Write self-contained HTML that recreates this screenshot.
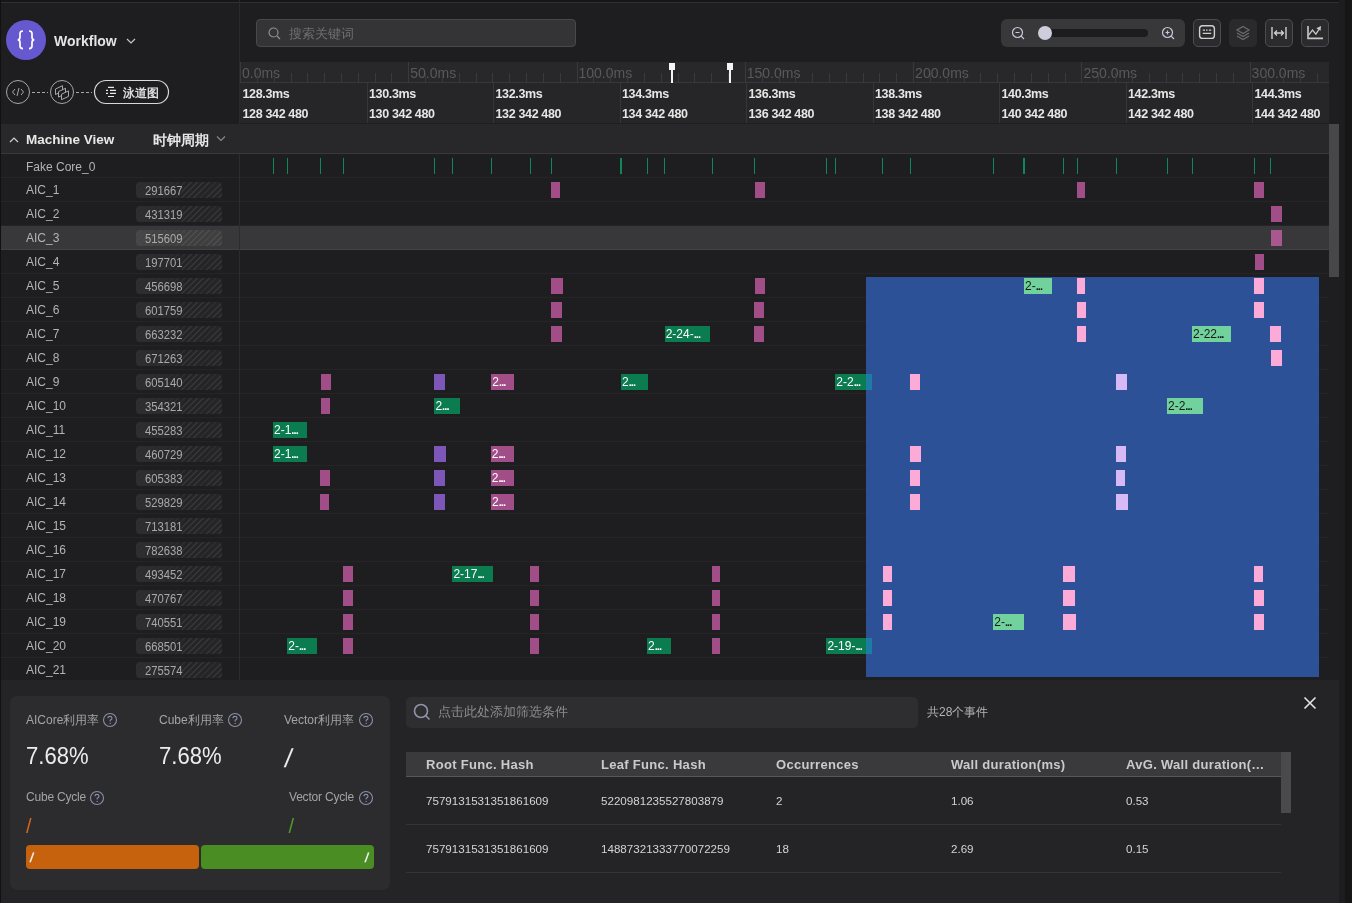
<!DOCTYPE html><html><head><meta charset="utf-8"><style>
*{margin:0;padding:0;box-sizing:border-box}
html,body{width:1352px;height:903px;overflow:hidden;background:#1e1e20;font-family:"Liberation Sans",sans-serif;color:#ddd}
.a{position:absolute}
.t{position:absolute;white-space:nowrap;line-height:1}
.blk{position:absolute;height:16px;overflow:hidden;font-size:12px;line-height:16px;padding-left:1px;white-space:nowrap;color:#fff}
.blk s{text-decoration:none;letter-spacing:-0.9px;font-weight:bold;font-size:11px}
.pk{background:#a14d88}.pkh{background:#a8588f}.pu{background:#7c56b9}.gr{background:#0b7b50}
.lpk{background:#fcabd8}.lpu{background:#d7b9f6}.lgr{background:#72d29e;color:#141a16}
.rowline{position:absolute;left:1px;width:1328px;height:1px;background:#252527}
.nm{position:absolute;left:26px;font-size:12px;color:#b4b4b4;line-height:1}
.nb{position:absolute;left:136px;width:86px;height:16px;border-radius:4px;overflow:hidden;background:rgba(255,255,255,0.035)}
.nb u{position:absolute;left:0;top:0;right:0;bottom:0;background:repeating-linear-gradient(135deg,transparent 0 3.2px,rgba(255,255,255,0.075) 3.2px 4.4px);-webkit-mask-image:linear-gradient(90deg,rgba(0,0,0,0.15),rgba(0,0,0,0.45) 52%,#000 54%)}
.nb i{position:absolute;left:0;top:0;bottom:0;width:46px;background:linear-gradient(90deg,rgba(255,255,255,0.04),rgba(255,255,255,0.0))}
.nb b{position:absolute;left:8.5px;top:2.5px;font-weight:normal;font-size:12.5px;line-height:13px;color:#a9a9a9;transform:scaleX(0.9);transform-origin:0 0}
.tick{position:absolute;top:158px;width:1.4px;height:16px;background:#0c8859}
.mt{position:absolute;top:62px;width:1px;height:21px;background:#3a3a3e}
.mn{position:absolute;top:73px;width:1px;height:10px;background:#3a3a3e}
.ml{position:absolute;top:65.5px;font-size:14px;color:#59595d;line-height:1}
.lab{position:absolute;font-size:12.5px;font-weight:bold;color:#e6e6e6;line-height:1;letter-spacing:-0.35px}
.ldiv{position:absolute;top:83px;width:1px;height:40px;background:#36363a}
.btn{position:absolute;top:19px;width:28px;height:28px;border-radius:5px;border:1px solid #4a4b55;background:#2b2b2e}
</style></head><body><div style="position:absolute;left:0;top:0;width:1352px;height:903px;will-change:transform">
<div class="a" style="left:0;top:0;width:1345px;height:2px;background:#161617"></div>
<div class="a" style="left:0;top:2px;width:1345px;height:1px;background:#303032"></div>
<div class="a" style="left:1339px;top:0;width:13px;height:903px;background:#1d1d1f"></div>
<div class="a" style="left:1345px;top:0;width:7px;height:903px;background:#161617"></div>
<div class="a" style="left:0;top:0;width:1px;height:903px;background:#111"></div>
<div class="a" style="left:6px;top:20px;width:40px;height:40px;border-radius:50%;background:#6659cf"></div>
<svg class="a" style="left:0;top:0" width="60" height="60" viewBox="0 0 60 60"><path d="M23 31 Q20 31 20 33.5 V37.2 Q20 39.5 17.8 39.8 Q20 40.1 20 42.4 V46 Q20 48.6 23 48.6 M29 31 Q32 31 32 33.5 V37.2 Q32 39.5 34.2 39.8 Q32 40.1 32 42.4 V46 Q32 48.6 29 48.6" fill="none" stroke="#fff" stroke-width="1.7"/></svg>
<div class="t" style="left:54px;top:34px;font-size:14px;font-weight:bold;color:#e4e4e4">Workflow</div>
<svg class="a" style="left:126px;top:38px" width="10" height="6" viewBox="0 0 10 6"><path d="M1 1 L5 5 L9 1" fill="none" stroke="#c8c8c8" stroke-width="1.2"/></svg>
<svg class="a" style="left:0;top:76px" width="175" height="32" viewBox="0 0 175 32"><circle cx="18" cy="16" r="11.5" fill="none" stroke="#a8a8a8" stroke-width="1"/><path d="M15 13 L12.5 16 L15 19 M21 13 L23.5 16 L21 19 M19 12 L17 20" fill="none" stroke="#a8a8a8" stroke-width="1"/><path d="M32 16.5 H48" stroke="#a8a8a8" stroke-width="1" stroke-dasharray="3 2"/><circle cx="62" cy="16" r="11.5" fill="none" stroke="#a8a8a8" stroke-width="1"/><path d="M55.5 13.0 L62.5 9.7 V15.2 L55.5 18.5 Z" fill="#1e1e20" stroke="#b0b0b0" stroke-width="0.95"/><path d="M58.5 15.6 L65.5 12.3 V17.8 L58.5 21.1 Z" fill="#1e1e20" stroke="#b0b0b0" stroke-width="0.95"/><path d="M61.5 18.2 L68.5 14.9 V20.4 L61.5 23.7 Z" fill="#1e1e20" stroke="#b0b0b0" stroke-width="0.95"/><path d="M76 16.5 H92" stroke="#a8a8a8" stroke-width="1" stroke-dasharray="3 2"/><rect x="94.5" y="4.5" width="74" height="23" rx="11.5" fill="none" stroke="#d8d8d8" stroke-width="1.2"/><path d="M108 11.3 h6 M106 14.4 h2 M110 14.4 h6 M106 17.3 h2 M110 17.3 h6 M108 20.5 h6" stroke="#e8e8e8" stroke-width="1.2"/></svg>
<div class="t" style="left:123px;top:87px;font-size:12px;color:#ececec;font-weight:bold;opacity:0.92">泳道图</div>
<div class="a" style="left:256px;top:19px;width:320px;height:28px;border-radius:4px;border:1px solid #48484e;background:#343437"></div>
<svg class="a" style="left:268px;top:27px" width="13" height="13" viewBox="0 0 13 13"><circle cx="5.5" cy="5.5" r="4.5" fill="none" stroke="#8e8e96" stroke-width="1.2"/><path d="M9 9 L12 12" stroke="#8e8e96" stroke-width="1.2"/></svg>
<div class="t" style="left:289px;top:27px;font-size:13px;color:#6e6e74">搜索关键词</div>
<div class="a" style="left:1001px;top:19px;width:184px;height:28px;border-radius:6px;background:#38383b"></div>
<svg class="a" style="left:1011px;top:26px" width="15" height="15" viewBox="0 0 15 15"><circle cx="6.5" cy="6.5" r="5" fill="none" stroke="#c8c8d8" stroke-width="1.2"/><path d="M4.5 6.5 h4 M10.2 10.2 L13 13" stroke="#c8c8d8" stroke-width="1.2"/></svg>
<div class="a" style="left:1039px;top:29px;width:109px;height:8px;border-radius:4px;background:#1c1c1e"></div>
<div class="a" style="left:1038px;top:26px;width:14px;height:14px;border-radius:50%;background:#cdcddb"></div>
<svg class="a" style="left:1161px;top:26px" width="15" height="15" viewBox="0 0 15 15"><circle cx="6.5" cy="6.5" r="5" fill="none" stroke="#c8c8d8" stroke-width="1.2"/><path d="M4.5 6.5 h4 M6.5 4.5 v4 M10.2 10.2 L13 13" stroke="#c8c8d8" stroke-width="1.2"/></svg>
<div class="btn" style="left:1193px"></div>
<svg class="a" style="left:1193px;top:19px" width="28" height="28" viewBox="0 0 28 28"><rect x="6.6" y="6.8" width="14.8" height="12.6" rx="3" fill="none" stroke="#cfcfcf" stroke-width="1.4"/><path d="M9.8 11.2 h2.2 M13 11.2 h1.6 M15.8 11.2 h2.4 M9.8 14.4 h8.4" stroke="#cfcfcf" stroke-width="1.2"/></svg>
<div class="a" style="left:1229px;top:19px;width:28px;height:28px;border-radius:5px;background:#2a2a2c"></div>
<svg class="a" style="left:1229px;top:19px" width="28" height="28" viewBox="0 0 28 28"><path d="M14 7.5 L20 11 L14 14.5 L8 11 Z" fill="none" stroke="#6c6c6e" stroke-width="1.2"/><path d="M8 14 L14 17.5 L20 14 M8 17 L14 20.5 L20 17" fill="none" stroke="#6c6c6e" stroke-width="1.2"/></svg>
<div class="btn" style="left:1265px"></div>
<svg class="a" style="left:1265px;top:19px" width="28" height="28" viewBox="0 0 28 28"><path d="M7 8 v12 M21 8 v12" stroke="#cfcfcf" stroke-width="1.4"/><path d="M9.5 14 h9 M12 11.5 L9.5 14 L12 16.5 M16 11.5 L18.5 14 L16 16.5" fill="none" stroke="#cfcfcf" stroke-width="1.3"/></svg>
<div class="btn" style="left:1301px"></div>
<svg class="a" style="left:1301px;top:19px" width="28" height="28" viewBox="0 0 28 28"><path d="M7 7 V19.4 H22" fill="none" stroke="#c8c8c8" stroke-width="1.6"/><path d="M7.4 16.3 L11.5 11 L14.9 15.2 L18.5 9.5" fill="none" stroke="#c8c8c8" stroke-width="1.3"/><path d="M20 7 L15.3 9.2 L19.6 11.8 Z" fill="#c8c8c8"/></svg>
<div class="a" style="left:240px;top:62px;width:1089px;height:21px;background:#28282a"></div>
<div class="a" style="left:240px;top:82px;width:1089px;height:1px;background:#38383c"></div>
<div class="a" style="left:240px;top:83px;width:1089px;height:40px;background:#262628"></div>
<div class="mt" style="left:240.0px"></div>
<div class="ml" style="left:242.0px">0.0ms</div>
<div class="mn" style="left:256.8px"></div>
<div class="mn" style="left:273.7px"></div>
<div class="mn" style="left:290.5px"></div>
<div class="mn" style="left:307.3px"></div>
<div class="mn" style="left:324.1px"></div>
<div class="mn" style="left:341.0px"></div>
<div class="mn" style="left:357.8px"></div>
<div class="mn" style="left:374.6px"></div>
<div class="mn" style="left:391.4px"></div>
<div class="mt" style="left:408.3px"></div>
<div class="ml" style="left:410.3px">50.0ms</div>
<div class="mn" style="left:425.1px"></div>
<div class="mn" style="left:441.9px"></div>
<div class="mn" style="left:458.8px"></div>
<div class="mn" style="left:475.6px"></div>
<div class="mn" style="left:492.4px"></div>
<div class="mn" style="left:509.2px"></div>
<div class="mn" style="left:526.1px"></div>
<div class="mn" style="left:542.9px"></div>
<div class="mn" style="left:559.7px"></div>
<div class="mt" style="left:576.5px"></div>
<div class="ml" style="left:578.5px">100.0ms</div>
<div class="mn" style="left:593.4px"></div>
<div class="mn" style="left:610.2px"></div>
<div class="mn" style="left:627.0px"></div>
<div class="mn" style="left:643.8px"></div>
<div class="mn" style="left:660.7px"></div>
<div class="mn" style="left:677.5px"></div>
<div class="mn" style="left:694.3px"></div>
<div class="mn" style="left:711.2px"></div>
<div class="mn" style="left:728.0px"></div>
<div class="mt" style="left:744.8px"></div>
<div class="ml" style="left:746.8px">150.0ms</div>
<div class="mn" style="left:761.6px"></div>
<div class="mn" style="left:778.5px"></div>
<div class="mn" style="left:795.3px"></div>
<div class="mn" style="left:812.1px"></div>
<div class="mn" style="left:828.9px"></div>
<div class="mn" style="left:845.8px"></div>
<div class="mn" style="left:862.6px"></div>
<div class="mn" style="left:879.4px"></div>
<div class="mn" style="left:896.3px"></div>
<div class="mt" style="left:913.1px"></div>
<div class="ml" style="left:915.1px">200.0ms</div>
<div class="mn" style="left:929.9px"></div>
<div class="mn" style="left:946.7px"></div>
<div class="mn" style="left:963.6px"></div>
<div class="mn" style="left:980.4px"></div>
<div class="mn" style="left:997.2px"></div>
<div class="mn" style="left:1014.0px"></div>
<div class="mn" style="left:1030.9px"></div>
<div class="mn" style="left:1047.7px"></div>
<div class="mn" style="left:1064.5px"></div>
<div class="mt" style="left:1081.4px"></div>
<div class="ml" style="left:1083.4px">250.0ms</div>
<div class="mn" style="left:1098.2px"></div>
<div class="mn" style="left:1115.0px"></div>
<div class="mn" style="left:1131.8px"></div>
<div class="mn" style="left:1148.7px"></div>
<div class="mn" style="left:1165.5px"></div>
<div class="mn" style="left:1182.3px"></div>
<div class="mn" style="left:1199.1px"></div>
<div class="mn" style="left:1216.0px"></div>
<div class="mn" style="left:1232.8px"></div>
<div class="mt" style="left:1249.6px"></div>
<div class="ml" style="left:1251.6px">300.0ms</div>
<div class="mn" style="left:1266.4px"></div>
<div class="mn" style="left:1283.3px"></div>
<div class="mn" style="left:1300.1px"></div>
<div class="mn" style="left:1316.9px"></div>
<div class="lab" style="left:242.5px;top:88px">128.3ms</div>
<div class="lab" style="left:242.5px;top:108px">128 342 480</div>
<div class="ldiv" style="left:366.5px"></div>
<div class="lab" style="left:369.0px;top:88px">130.3ms</div>
<div class="lab" style="left:369.0px;top:108px">130 342 480</div>
<div class="ldiv" style="left:493.0px"></div>
<div class="lab" style="left:495.5px;top:88px">132.3ms</div>
<div class="lab" style="left:495.5px;top:108px">132 342 480</div>
<div class="ldiv" style="left:619.5px"></div>
<div class="lab" style="left:622.0px;top:88px">134.3ms</div>
<div class="lab" style="left:622.0px;top:108px">134 342 480</div>
<div class="ldiv" style="left:746.0px"></div>
<div class="lab" style="left:748.5px;top:88px">136.3ms</div>
<div class="lab" style="left:748.5px;top:108px">136 342 480</div>
<div class="ldiv" style="left:872.5px"></div>
<div class="lab" style="left:875.0px;top:88px">138.3ms</div>
<div class="lab" style="left:875.0px;top:108px">138 342 480</div>
<div class="ldiv" style="left:999.0px"></div>
<div class="lab" style="left:1001.5px;top:88px">140.3ms</div>
<div class="lab" style="left:1001.5px;top:108px">140 342 480</div>
<div class="ldiv" style="left:1125.5px"></div>
<div class="lab" style="left:1128.0px;top:88px">142.3ms</div>
<div class="lab" style="left:1128.0px;top:108px">142 342 480</div>
<div class="ldiv" style="left:1252.0px"></div>
<div class="lab" style="left:1254.5px;top:88px">144.3ms</div>
<div class="lab" style="left:1254.5px;top:108px">144 342 480</div>
<div class="a" style="left:669px;top:63px;width:6px;height:7px;background:#f4f4f4"></div>
<div class="a" style="left:671px;top:69px;width:2px;height:14px;background:#f4f4f4"></div>
<div class="a" style="left:727px;top:63px;width:6px;height:7px;background:#f4f4f4"></div>
<div class="a" style="left:729px;top:69px;width:2px;height:14px;background:#f4f4f4"></div>
<div class="a" style="left:239px;top:0;width:1px;height:124px;background:#2a2a2c"></div>
<div class="a" style="left:1px;top:124px;width:1328px;height:29px;background:#28282a"></div>
<div class="a" style="left:1px;top:153px;width:1328px;height:1px;background:#38383a"></div>
<svg class="a" style="left:9px;top:136px" width="10" height="7" viewBox="0 0 10 7"><path d="M1 6 L5 2 L9 6" fill="none" stroke="#d0d0d0" stroke-width="1.2"/></svg>
<div class="t" style="left:26px;top:132.5px;font-size:13.5px;font-weight:bold;color:#e8e8e8">Machine View</div>
<div class="t" style="left:153px;top:134px;font-size:13.5px;font-weight:bold;color:#e8e8e8">时钟周期</div>
<svg class="a" style="left:216px;top:135px" width="10" height="7" viewBox="0 0 10 7"><path d="M1 1.5 L5 5.5 L9 1.5" fill="none" stroke="#8a8a90" stroke-width="1.1"/></svg>
<div class="a" style="left:1px;top:226px;width:1328px;height:24px;background:#38383a"></div>
<div class="rowline" style="top:177px"></div>
<div class="rowline" style="top:201px"></div>
<div class="rowline" style="top:225px"></div>
<div class="rowline" style="top:249px;background:#424244"></div>
<div class="rowline" style="top:273px"></div>
<div class="rowline" style="top:297px"></div>
<div class="rowline" style="top:321px"></div>
<div class="rowline" style="top:345px"></div>
<div class="rowline" style="top:369px"></div>
<div class="rowline" style="top:393px"></div>
<div class="rowline" style="top:417px"></div>
<div class="rowline" style="top:441px"></div>
<div class="rowline" style="top:465px"></div>
<div class="rowline" style="top:489px"></div>
<div class="rowline" style="top:513px"></div>
<div class="rowline" style="top:537px"></div>
<div class="rowline" style="top:561px"></div>
<div class="rowline" style="top:585px"></div>
<div class="rowline" style="top:609px"></div>
<div class="rowline" style="top:633px"></div>
<div class="rowline" style="top:657px"></div>
<div class="rowline" style="top:681px"></div>
<div class="t nm" style="top:160.5px;font-size:12px">Fake Core_0</div>
<div class="nm" style="top:184px">AIC_1</div>
<div class="nb" style="top:182px"><u></u><i></i><b>291667</b></div>
<div class="nm" style="top:208px">AIC_2</div>
<div class="nb" style="top:206px"><u></u><i></i><b>431319</b></div>
<div class="nm" style="top:232px">AIC_3</div>
<div class="nb" style="top:230px"><u></u><i></i><b>515609</b></div>
<div class="nm" style="top:256px">AIC_4</div>
<div class="nb" style="top:254px"><u></u><i></i><b>197701</b></div>
<div class="nm" style="top:280px">AIC_5</div>
<div class="nb" style="top:278px"><u></u><i></i><b>456698</b></div>
<div class="nm" style="top:304px">AIC_6</div>
<div class="nb" style="top:302px"><u></u><i></i><b>601759</b></div>
<div class="nm" style="top:328px">AIC_7</div>
<div class="nb" style="top:326px"><u></u><i></i><b>663232</b></div>
<div class="nm" style="top:352px">AIC_8</div>
<div class="nb" style="top:350px"><u></u><i></i><b>671263</b></div>
<div class="nm" style="top:376px">AIC_9</div>
<div class="nb" style="top:374px"><u></u><i></i><b>605140</b></div>
<div class="nm" style="top:400px">AIC_10</div>
<div class="nb" style="top:398px"><u></u><i></i><b>354321</b></div>
<div class="nm" style="top:424px">AIC_11</div>
<div class="nb" style="top:422px"><u></u><i></i><b>455283</b></div>
<div class="nm" style="top:448px">AIC_12</div>
<div class="nb" style="top:446px"><u></u><i></i><b>460729</b></div>
<div class="nm" style="top:472px">AIC_13</div>
<div class="nb" style="top:470px"><u></u><i></i><b>605383</b></div>
<div class="nm" style="top:496px">AIC_14</div>
<div class="nb" style="top:494px"><u></u><i></i><b>529829</b></div>
<div class="nm" style="top:520px">AIC_15</div>
<div class="nb" style="top:518px"><u></u><i></i><b>713181</b></div>
<div class="nm" style="top:544px">AIC_16</div>
<div class="nb" style="top:542px"><u></u><i></i><b>782638</b></div>
<div class="nm" style="top:568px">AIC_17</div>
<div class="nb" style="top:566px"><u></u><i></i><b>493452</b></div>
<div class="nm" style="top:592px">AIC_18</div>
<div class="nb" style="top:590px"><u></u><i></i><b>470767</b></div>
<div class="nm" style="top:616px">AIC_19</div>
<div class="nb" style="top:614px"><u></u><i></i><b>740551</b></div>
<div class="nm" style="top:640px">AIC_20</div>
<div class="nb" style="top:638px"><u></u><i></i><b>668501</b></div>
<div class="nm" style="top:664px">AIC_21</div>
<div class="nb" style="top:662px"><u></u><i></i><b>275574</b></div>
<div class="a" style="left:239px;top:154px;width:1px;height:527px;background:#2c2c2e"></div>
<div class="tick" style="left:272.8px"></div>
<div class="tick" style="left:286.6px"></div>
<div class="tick" style="left:320.1px"></div>
<div class="tick" style="left:342.8px"></div>
<div class="tick" style="left:433.9px"></div>
<div class="tick" style="left:451.9px"></div>
<div class="tick" style="left:490.6px"></div>
<div class="tick" style="left:529.5px"></div>
<div class="tick" style="left:550.5px"></div>
<div class="tick" style="left:620.2px"></div>
<div class="tick" style="left:646.5px"></div>
<div class="tick" style="left:664.0px"></div>
<div class="tick" style="left:711.8px"></div>
<div class="tick" style="left:754.0px"></div>
<div class="tick" style="left:825.6px"></div>
<div class="tick" style="left:834.9px"></div>
<div class="tick" style="left:882.1px"></div>
<div class="tick" style="left:909.6px"></div>
<div class="tick" style="left:992.9px"></div>
<div class="tick" style="left:1023.2px"></div>
<div class="tick" style="left:1062.8px"></div>
<div class="tick" style="left:1076.5px"></div>
<div class="tick" style="left:1115.7px"></div>
<div class="tick" style="left:1166.5px"></div>
<div class="tick" style="left:1191.7px"></div>
<div class="tick" style="left:1253.8px"></div>
<div class="tick" style="left:1269.8px"></div>
<div class="a" style="left:866px;top:277px;width:453px;height:400px;background:rgba(45,83,155,0.97)"></div>
<div class="blk pk" style="left:551.0px;top:182px;width:9.0px"></div>
<div class="blk pk" style="left:754.5px;top:182px;width:10.5px"></div>
<div class="blk pk" style="left:1077.0px;top:182px;width:8.0px"></div>
<div class="blk pk" style="left:1254.0px;top:182px;width:10.0px"></div>
<div class="blk pk" style="left:1271.0px;top:206px;width:11.0px"></div>
<div class="blk pkh" style="left:1271.0px;top:230px;width:10.5px"></div>
<div class="blk pk" style="left:1254.5px;top:254px;width:9.5px"></div>
<div class="blk pk" style="left:551.0px;top:278px;width:11.5px"></div>
<div class="blk pk" style="left:754.5px;top:278px;width:10.5px"></div>
<div class="blk lgr" style="left:1024.0px;top:278px;width:28.0px">2-<s>...</s></div>
<div class="blk lpk" style="left:1077.0px;top:278px;width:7.5px"></div>
<div class="blk lpk" style="left:1254.0px;top:278px;width:10.0px"></div>
<div class="blk pk" style="left:551.0px;top:302px;width:11.0px"></div>
<div class="blk pk" style="left:754.0px;top:302px;width:9.5px"></div>
<div class="blk lpk" style="left:1077.0px;top:302px;width:8.5px"></div>
<div class="blk lpk" style="left:1254.0px;top:302px;width:10.0px"></div>
<div class="blk pk" style="left:551.0px;top:326px;width:11.0px"></div>
<div class="blk gr" style="left:664.7px;top:326px;width:45.1px">2-24-<s>...</s></div>
<div class="blk pk" style="left:754.0px;top:326px;width:10.0px"></div>
<div class="blk lpk" style="left:1077.0px;top:326px;width:9.0px"></div>
<div class="blk lgr" style="left:1192.0px;top:326px;width:39.0px">2-22<s>...</s></div>
<div class="blk lpk" style="left:1270.0px;top:326px;width:11.0px"></div>
<div class="blk lpk" style="left:1271.0px;top:350px;width:11.0px"></div>
<div class="blk pk" style="left:321.0px;top:374px;width:9.5px"></div>
<div class="blk pu" style="left:434.4px;top:374px;width:10.6px"></div>
<div class="blk pk" style="left:491.3px;top:374px;width:22.7px">2<s>...</s></div>
<div class="blk gr" style="left:621.0px;top:374px;width:27.0px">2<s>...</s></div>
<div class="blk gr" style="left:835.3px;top:374px;width:36.7px">2-2<s>...</s></div>
<div class="a" style="left:866px;top:374px;width:6.0px;height:16px;background:#1e7ba4"></div>
<div class="blk lpk" style="left:910.0px;top:374px;width:10.0px"></div>
<div class="blk lpu" style="left:1116.0px;top:374px;width:10.5px"></div>
<div class="blk pk" style="left:321.0px;top:398px;width:9.0px"></div>
<div class="blk gr" style="left:434.4px;top:398px;width:25.6px">2<s>...</s></div>
<div class="blk lgr" style="left:1167.0px;top:398px;width:36.0px">2-2<s>...</s></div>
<div class="blk gr" style="left:273.0px;top:422px;width:34.0px">2-1<s>...</s></div>
<div class="blk gr" style="left:273.0px;top:446px;width:34.0px">2-1<s>...</s></div>
<div class="blk pu" style="left:434.4px;top:446px;width:11.4px"></div>
<div class="blk pk" style="left:490.7px;top:446px;width:23.0px">2<s>...</s></div>
<div class="blk lpk" style="left:910.0px;top:446px;width:11.0px"></div>
<div class="blk lpu" style="left:1116.0px;top:446px;width:10.0px"></div>
<div class="blk pk" style="left:320.2px;top:470px;width:9.5px"></div>
<div class="blk pu" style="left:434.4px;top:470px;width:10.6px"></div>
<div class="blk pk" style="left:490.7px;top:470px;width:23.3px">2<s>...</s></div>
<div class="blk lpk" style="left:910.0px;top:470px;width:10.0px"></div>
<div class="blk lpu" style="left:1116.0px;top:470px;width:9.0px"></div>
<div class="blk pk" style="left:320.0px;top:494px;width:9.0px"></div>
<div class="blk pu" style="left:434.0px;top:494px;width:11.0px"></div>
<div class="blk pk" style="left:491.0px;top:494px;width:23.0px">2<s>...</s></div>
<div class="blk lpk" style="left:910.0px;top:494px;width:10.0px"></div>
<div class="blk lpu" style="left:1116.0px;top:494px;width:12.0px"></div>
<div class="blk pk" style="left:343.2px;top:566px;width:9.8px"></div>
<div class="blk gr" style="left:452.4px;top:566px;width:40.4px">2-17<s>...</s></div>
<div class="blk pk" style="left:530.0px;top:566px;width:8.5px"></div>
<div class="blk pk" style="left:712.0px;top:566px;width:8.0px"></div>
<div class="blk lpk" style="left:882.6px;top:566px;width:9.0px"></div>
<div class="blk lpk" style="left:1063.0px;top:566px;width:12.0px"></div>
<div class="blk lpk" style="left:1254.3px;top:566px;width:8.7px"></div>
<div class="blk pk" style="left:343.0px;top:590px;width:10.0px"></div>
<div class="blk pk" style="left:530.0px;top:590px;width:8.5px"></div>
<div class="blk pk" style="left:712.0px;top:590px;width:8.0px"></div>
<div class="blk lpk" style="left:882.6px;top:590px;width:9.0px"></div>
<div class="blk lpk" style="left:1063.0px;top:590px;width:11.6px"></div>
<div class="blk lpk" style="left:1254.0px;top:590px;width:10.0px"></div>
<div class="blk pk" style="left:343.0px;top:614px;width:10.0px"></div>
<div class="blk pk" style="left:530.0px;top:614px;width:8.5px"></div>
<div class="blk pk" style="left:712.0px;top:614px;width:8.0px"></div>
<div class="blk lpk" style="left:882.6px;top:614px;width:9.0px"></div>
<div class="blk lgr" style="left:993.3px;top:614px;width:30.7px">2-<s>...</s></div>
<div class="blk lpk" style="left:1063.0px;top:614px;width:13.0px"></div>
<div class="blk lpk" style="left:1254.0px;top:614px;width:10.0px"></div>
<div class="blk gr" style="left:287.3px;top:638px;width:29.7px">2-<s>...</s></div>
<div class="blk pk" style="left:343.0px;top:638px;width:10.0px"></div>
<div class="blk pk" style="left:530.0px;top:638px;width:8.5px"></div>
<div class="blk gr" style="left:647.0px;top:638px;width:23.6px">2<s>...</s></div>
<div class="blk pk" style="left:712.0px;top:638px;width:8.0px"></div>
<div class="blk gr" style="left:826.4px;top:638px;width:45.6px">2-19-<s>...</s></div>
<div class="a" style="left:866px;top:638px;width:6.0px;height:16px;background:#1e7ba4"></div>
<div class="a" style="left:1329px;top:124px;width:10px;height:153px;background:#474749"></div>
<div class="a" style="left:1px;top:680px;width:1338px;height:223px;background:#242426"></div>
<div class="a" style="left:10px;top:696px;width:380px;height:194px;border-radius:7px;background:#2c2c2f"></div>
<div class="t" style="left:26px;top:714px;font-size:12px;color:#a4a4a8">AICore利用率</div>
<svg class="a" style="left:102px;top:712px" width="16" height="16" viewBox="0 0 16 16"><circle cx="8" cy="8" r="6.5" fill="none" stroke="#8a8ea8" stroke-width="1.1"/><path d="M6 6.3 Q6 4.4 8 4.4 Q10 4.4 10 6.2 Q10 7.4 8.2 8.2 V9.6" fill="none" stroke="#8a8ea8" stroke-width="1.1"/><circle cx="8.2" cy="11.4" r="0.7" fill="#8a8ea8"/></svg>
<div class="t" style="left:159px;top:714px;font-size:12px;color:#a4a4a8">Cube利用率</div>
<svg class="a" style="left:227px;top:712px" width="16" height="16" viewBox="0 0 16 16"><circle cx="8" cy="8" r="6.5" fill="none" stroke="#8a8ea8" stroke-width="1.1"/><path d="M6 6.3 Q6 4.4 8 4.4 Q10 4.4 10 6.2 Q10 7.4 8.2 8.2 V9.6" fill="none" stroke="#8a8ea8" stroke-width="1.1"/><circle cx="8.2" cy="11.4" r="0.7" fill="#8a8ea8"/></svg>
<div class="t" style="left:284px;top:714px;font-size:12px;color:#a4a4a8">Vector利用率</div>
<svg class="a" style="left:358px;top:712px" width="16" height="16" viewBox="0 0 16 16"><circle cx="8" cy="8" r="6.5" fill="none" stroke="#8a8ea8" stroke-width="1.1"/><path d="M6 6.3 Q6 4.4 8 4.4 Q10 4.4 10 6.2 Q10 7.4 8.2 8.2 V9.6" fill="none" stroke="#8a8ea8" stroke-width="1.1"/><circle cx="8.2" cy="11.4" r="0.7" fill="#8a8ea8"/></svg>
<div class="t" style="left:26px;top:744px;font-size:24px;color:#ececec;transform:scaleX(0.92);transform-origin:0 0">7.68%</div>
<div class="t" style="left:159px;top:744px;font-size:24px;color:#ececec;transform:scaleX(0.92);transform-origin:0 0">7.68%</div>
<div class="t" style="left:284.5px;top:745px;font-size:26px;color:#ececec;transform:skewX(-8deg)">/</div>
<div class="t" style="left:26px;top:791px;font-size:12px;letter-spacing:-0.2px;color:#a4a4a8">Cube Cycle</div>
<svg class="a" style="left:89px;top:790px" width="16" height="16" viewBox="0 0 16 16"><circle cx="8" cy="8" r="6.5" fill="none" stroke="#8a8ea8" stroke-width="1.1"/><path d="M6 6.3 Q6 4.4 8 4.4 Q10 4.4 10 6.2 Q10 7.4 8.2 8.2 V9.6" fill="none" stroke="#8a8ea8" stroke-width="1.1"/><circle cx="8.2" cy="11.4" r="0.7" fill="#8a8ea8"/></svg>
<div class="t" style="left:289px;top:791px;font-size:12px;letter-spacing:-0.2px;color:#a4a4a8">Vector Cycle</div>
<svg class="a" style="left:358px;top:790px" width="16" height="16" viewBox="0 0 16 16"><circle cx="8" cy="8" r="6.5" fill="none" stroke="#8a8ea8" stroke-width="1.1"/><path d="M6 6.3 Q6 4.4 8 4.4 Q10 4.4 10 6.2 Q10 7.4 8.2 8.2 V9.6" fill="none" stroke="#8a8ea8" stroke-width="1.1"/><circle cx="8.2" cy="11.4" r="0.7" fill="#8a8ea8"/></svg>
<div class="t" style="left:26px;top:816px;font-size:20px;color:#d0661a">/</div>
<div class="t" style="left:288.5px;top:816px;font-size:20px;color:#4e9a2a">/</div>
<div class="a" style="left:26px;top:845px;width:173px;height:24px;border-radius:4px;background:#c6620e"></div>
<div class="a" style="left:201px;top:845px;width:173px;height:24px;border-radius:4px;background:#4a8e23"></div>
<div class="t" style="left:29.5px;top:851px;font-size:13px;font-weight:bold;color:#f2f2f2;transform:skewX(-10deg)">/</div>
<div class="t" style="left:364.5px;top:851px;font-size:13px;font-weight:bold;color:#f2f2f2;transform:skewX(-10deg)">/</div>
<div class="a" style="left:406px;top:697px;width:512px;height:31px;border-radius:5px;background:#2e2e31"></div>
<svg class="a" style="left:412px;top:702px" width="20" height="20" viewBox="0 0 20 20"><circle cx="9" cy="9" r="6.5" fill="none" stroke="#9094aa" stroke-width="1.6"/><path d="M13.8 13.8 L17.5 17.5" stroke="#9094aa" stroke-width="1.6"/></svg>
<div class="t" style="left:438px;top:705px;font-size:13px;color:#8c8c8e">点击此处添加筛选条件</div>
<div class="t" style="left:927px;top:706px;font-size:12px;color:#b4b4b8">共28个事件</div>
<svg class="a" style="left:1302px;top:695px" width="16" height="16" viewBox="0 0 16 16"><path d="M2.5 2.5 L13.5 13.5 M13.5 2.5 L2.5 13.5" stroke="#e4e4e4" stroke-width="1.6"/></svg>
<div class="a" style="left:406px;top:752px;width:875px;height:24px;background:#3a3a3d"></div>
<div class="a" style="left:406px;top:776px;width:875px;height:1px;background:#56565e"></div>
<div class="t" style="left:426px;top:758px;font-size:13px;letter-spacing:0.3px;font-weight:bold;color:#cacaca">Root Func. Hash</div>
<div class="t" style="left:601px;top:758px;font-size:13px;letter-spacing:0.3px;font-weight:bold;color:#cacaca">Leaf Func. Hash</div>
<div class="t" style="left:776px;top:758px;font-size:13px;letter-spacing:0.3px;font-weight:bold;color:#cacaca">Occurrences</div>
<div class="t" style="left:951px;top:758px;font-size:13px;letter-spacing:0.3px;font-weight:bold;color:#cacaca">Wall duration(ms)</div>
<div class="t" style="left:1126px;top:758px;font-size:13px;letter-spacing:0.3px;font-weight:bold;color:#cacaca">AvG. Wall duration(…</div>
<div class="t" style="left:426px;top:795px;font-size:11.6px;color:#d4d4d4">7579131531351861609</div>
<div class="t" style="left:601px;top:795px;font-size:11.6px;color:#d4d4d4">5220981235527803879</div>
<div class="t" style="left:776px;top:795px;font-size:11.6px;color:#d4d4d4">2</div>
<div class="t" style="left:951px;top:795px;font-size:11.6px;color:#d4d4d4">1.06</div>
<div class="t" style="left:1126px;top:795px;font-size:11.6px;color:#d4d4d4">0.53</div>
<div class="a" style="left:406px;top:824px;width:875px;height:1px;background:#333338"></div>
<div class="t" style="left:426px;top:843px;font-size:11.6px;color:#d4d4d4">7579131531351861609</div>
<div class="t" style="left:601px;top:843px;font-size:11.6px;color:#d4d4d4">14887321333770072259</div>
<div class="t" style="left:776px;top:843px;font-size:11.6px;color:#d4d4d4">18</div>
<div class="t" style="left:951px;top:843px;font-size:11.6px;color:#d4d4d4">2.69</div>
<div class="t" style="left:1126px;top:843px;font-size:11.6px;color:#d4d4d4">0.15</div>
<div class="a" style="left:406px;top:872px;width:875px;height:1px;background:#333338"></div>
<div class="a" style="left:1281px;top:752px;width:10px;height:61px;background:#4a4a4c"></div>
</div></body></html>
